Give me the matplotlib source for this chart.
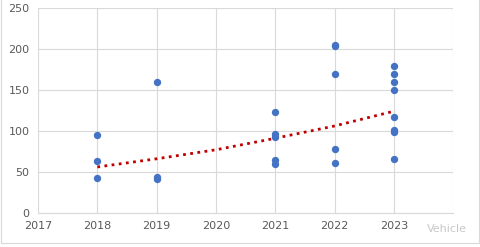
import matplotlib as mpl
mpl.use('agg')
import matplotlib.pyplot as plt
import numpy as np

# data
years_2018 = [95, 63, 43]
years_2019 = [160, 44, 41]
years_2021 = [123, 96, 93, 65, 60]
years_2022 = [205, 203, 170, 78, 61]
years_2023 = [179, 170, 160, 150, 117, 101, 99, 66]

# trendline (exponential fit in Excel), values read at each year
trend_x = [2018, 2019, 2020, 2021, 2022, 2023]
trend_y = [56, 66, 77, 91, 106, 124]

x = np.array([2018]*len(years_2018) + [2019]*len(years_2019) + [2021]*len(years_2021)
             + [2022]*len(years_2022) + [2023]*len(years_2023))
y = np.array(years_2018 + years_2019 + years_2021 + years_2022 + years_2023)

fig = plt.figure(figsize=(4.81, 2.47), dpi=100)
ax = fig.add_axes([0.079, 0.138, 0.863, 0.83])

ax.scatter(x, y, s=28, color='#4472C4', zorder=3, linewidths=0)
ax.plot(trend_x, trend_y, color='#C00000', linestyle=(0, (1, 1.6)), linewidth=2, zorder=2)

ax.set_xlim(2017, 2024)
ax.set_ylim(0, 250)
ax.set_xticks(range(2017, 2025))
ax.set_xticklabels([str(v) for v in range(2017, 2024)] + [''])
ax.set_yticks(range(0, 251, 50))
ax.grid(True, color='#D9D9D9', linewidth=0.8)
ax.set_axisbelow(True)
for s in ['top', 'right', 'left']:
    ax.spines[s].set_visible(False)
ax.spines['bottom'].set_color('#D9D9D9')
ax.tick_params(length=0, labelsize=8, colors='#595959', pad=6)

# outer chart border (left, bottom, right)
fig.add_artist(plt.Line2D([0.003, 0.003, 0.995, 0.995], [1.0, 0.018, 0.018, 1.0],
                          transform=fig.transFigure, color='#D9D9D9', linewidth=0.8))

fig.text(0.888, 0.06, 'Vehicle', fontsize=8, color='#C8C8C8')

plt.savefig('out.png', dpi=100)
